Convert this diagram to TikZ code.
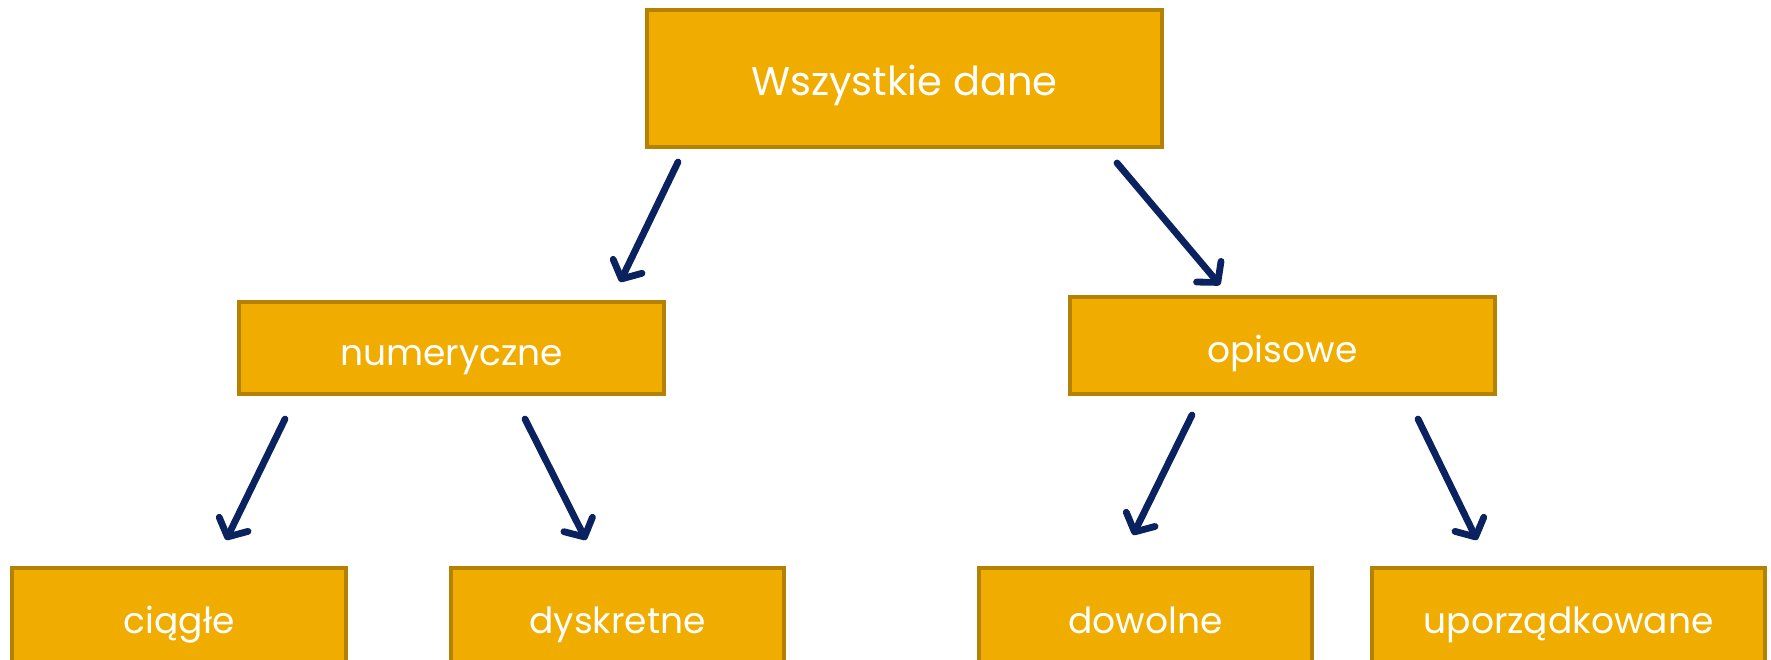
\documentclass[tikz,border=0pt]{standalone}
\usepackage{fontspec}
\setmainfont{Poppins}
\usetikzlibrary{arrows.meta}
\definecolor{boxfill}{RGB}{240,173,0}
\definecolor{boxline}{RGB}{180,130,0}
\definecolor{arrowc}{RGB}{10,34,96}
\tikzset{
  box/.style={rectangle, draw=boxline, fill=boxfill, line width=1.6pt, text=white, font=\fontsize{18}{20}\selectfont, inner sep=0pt, text height=18pt, text depth=1pt},
  bigbox/.style={box, font=\fontsize{20}{22}\selectfont},
  conn/.style={draw=arrowc, line width=3.4pt, line cap=round, -{Straight Barb[length=7pt,width=16pt,line join=round,line cap=round]}}
}
\begin{document}
\begin{tikzpicture}[x=0.5pt,y=-0.5pt]
\useasboundingbox (0,0) rectangle (1771,659);
\clip (0,0) rectangle (1771,659);
\node[bigbox, minimum width=257.5pt, minimum height=68.5pt] (all) at (904.5,78.5) {Wszystkie dane};
\node[box, minimum width=212.5pt, minimum height=46pt] (num) at (451.5,348) {numeryczne};
\node[box, minimum width=212.5pt, minimum height=48.5pt] (opi) at (1282.5,345.5) {opisowe};
\node[box, minimum width=167pt, minimum height=48pt] (cia) at (179,616) {ciągłe};
\node[box, minimum width=166.5pt, minimum height=48pt] (dys) at (617.5,616) {dyskretne};
\node[box, minimum width=166.5pt, minimum height=48pt] (dow) at (1145.5,616) {dowolne};
\node[box, minimum width=196.5pt, minimum height=48pt] (upo) at (1568.5,616) {uporządkowane};
\coordinate (a1s) at (678,162); \coordinate (a1e) at (620,282);
\coordinate (a2s) at (1117,163); \coordinate (a2e) at (1220,285);
\coordinate (a3s) at (285,419); \coordinate (a3e) at (226,540);
\coordinate (a4s) at (525,419); \coordinate (a4e) at (586,540);
\coordinate (a5s) at (1192,415); \coordinate (a5e) at (1133,535);
\coordinate (a6s) at (1418,419); \coordinate (a6e) at (1477,540);
\draw[conn] (a1s) -- (a1e);
\draw[conn] (a2s) -- (a2e);
\draw[conn] (a3s) -- (a3e);
\draw[conn] (a4s) -- (a4e);
\draw[conn] (a5s) -- (a5e);
\draw[conn] (a6s) -- (a6e);
\end{tikzpicture}
\end{document}
